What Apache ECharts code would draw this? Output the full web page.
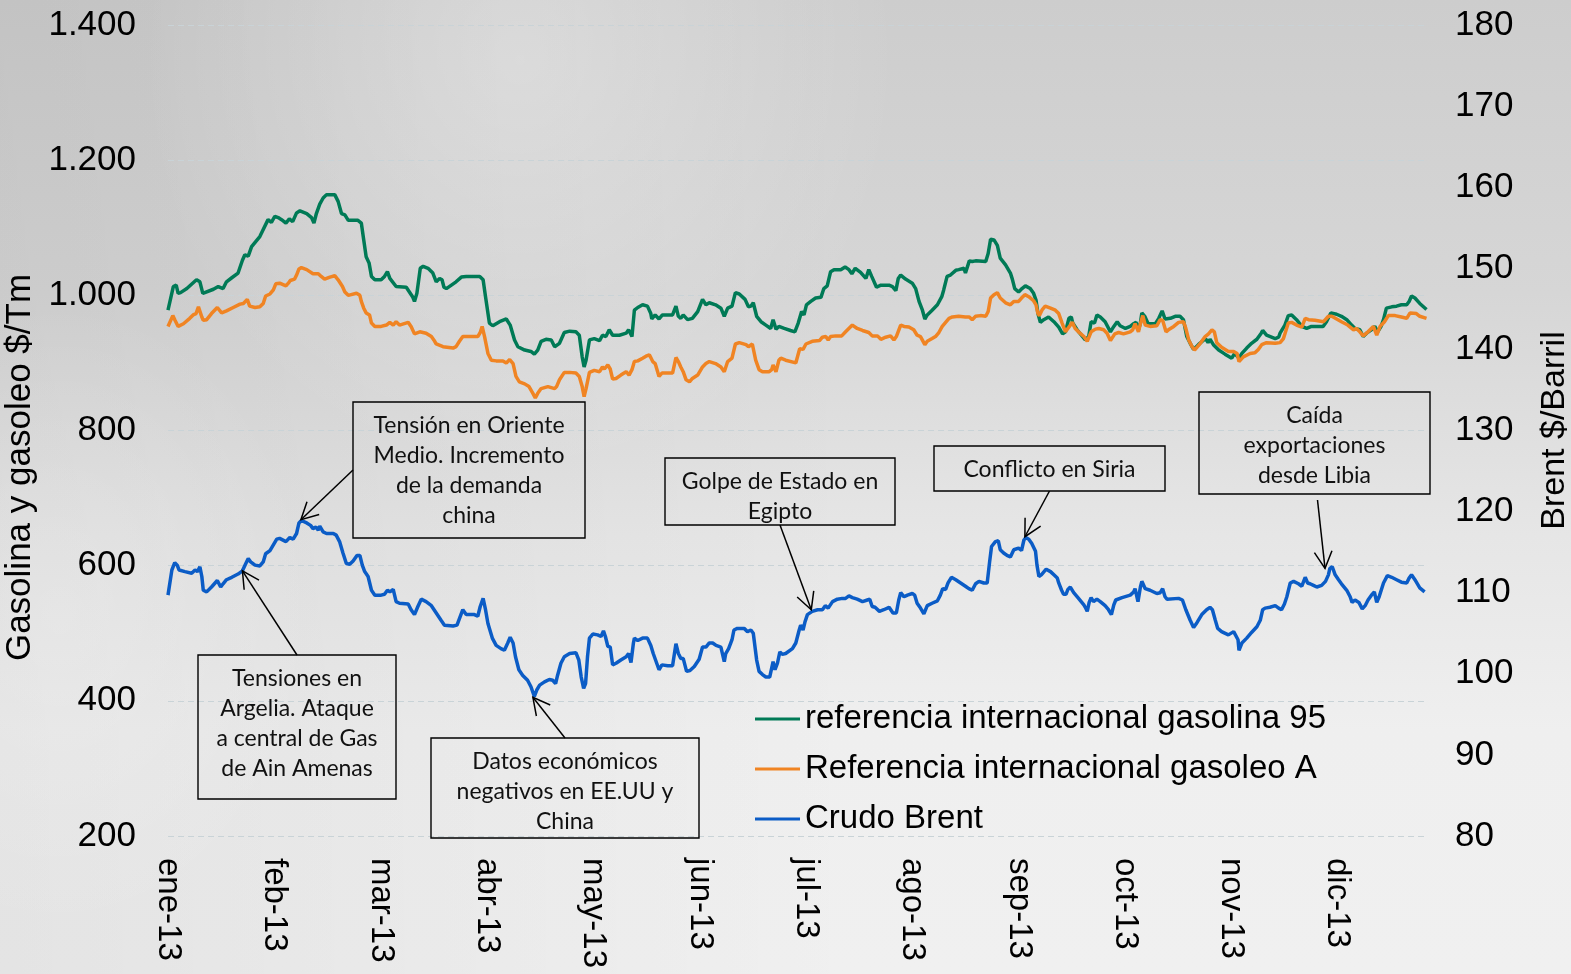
<!DOCTYPE html>
<html>
<head>
<meta charset="utf-8">
<script src="https://cdn.jsdelivr.net/npm/echarts@6/dist/echarts.min.js"></script>
<style>
html,body{margin:0;padding:0;width:1571px;height:974px;overflow:hidden;}
body{
 background:
  radial-gradient(ellipse 380px 420px at 520px 60px, rgba(255,255,255,0.30), rgba(255,255,255,0) 100%),
  radial-gradient(ellipse 260px 320px at 60px 620px, rgba(255,255,255,0.22), rgba(255,255,255,0) 100%),
  linear-gradient(90deg, rgba(0,0,0,0.05) 0%, rgba(0,0,0,0) 55%),
  linear-gradient(180deg, #cdcdcd 0%, #d6d6d6 30%, #e6e6e6 55%, #efefef 75%, #f0f0f0 100%);
}
#chart{width:1571px;height:974px;}
</style>
</head>
<body>
<div id="chart"></div>
<script>
// ---- tick labels (category labels every 22 trading days) ----
const monthLabels = ['ene-13','feb-13','mar-13','abr-13','may-13','jun-13','jul-13','ago-13','sep-13','oct-13','nov-13','dic-13'];
const labelStep = 22;
const lastIndex = 260.5;

// ---- series: [trading-day index, value] ----
const gasolina95 = [[0,978],[1.1,1013],[1.7,1015],[2.1,1003],[2.6,1004],[3.9,1010],[5.9,1023],[6.6,1020],[7.2,1003],[7.6,1001],[9.4,1009],[10.4,1013],[11.4,1010],[12.1,1020],[13.2,1026],[14.5,1033],[15.4,1052],[15.9,1060],[16.6,1058],[17.3,1072],[19,1087],[20.7,1112],[21.4,1108],[22.1,1117],[22.8,1115],[23.5,1112],[24.4,1107],[25.1,1113],[25.8,1109],[26.6,1122],[27.3,1125],[28.7,1121],[29.7,1115],[30.2,1107],[30.7,1121],[31.4,1135],[32.1,1144],[32.8,1149],[34.5,1149],[35.2,1139],[35.9,1121],[36.6,1119],[37.3,1111],[39.3,1111],[40,1107],[40.5,1082],[41,1057],[41.6,1048],[42.1,1028],[42.8,1023],[44.1,1023],[44.8,1028],[45.4,1035],[45.9,1025],[47.2,1013],[49.3,1012],[50.6,998],[51,991],[51.5,1003],[52.2,1040],[52.8,1043],[53.8,1040],[54.8,1033],[55.5,1020],[56.2,1025],[56.7,1023],[57.1,1012],[57.6,1010],[59.6,1020],[60.7,1027],[61,1029],[61.7,1028],[64.5,1028],[65.2,1023],[65.7,998],[66.5,959],[67.2,955],[68.6,961],[70,965],[70.8,956],[71.7,934],[72.4,924],[73.8,919],[75.1,917],[75.8,913],[76.5,919],[77.2,932],[78.2,935],[79.3,934],[80,924],[80.4,922],[81,929],[82,945],[83.1,947],[84.4,946],[85.1,941],[85.7,909],[86.1,894],[86.5,904],[87.2,934],[88.2,936],[89.3,933],[89.9,941],[90.6,939],[91.3,949],[92,941],[93.4,941],[94.8,944],[95.3,949],[96,939],[96.5,978],[97.2,982],[98.2,986],[99.2,984],[99.9,973],[100.1,965],[100.8,971],[101.6,965],[102.3,971],[104.4,971],[105.1,984],[105.6,969],[106.1,966],[106.6,971],[107.5,964],[108.5,966],[109.6,976],[110.6,994],[111.3,986],[112,989],[113.3,986],[114.4,981],[115.1,969],[115.8,981],[116.7,984],[117.4,1004],[118.2,1002],[119.4,994],[120.1,983],[120.6,984],[121.1,989],[121.8,969],[122.7,961],[123.7,956],[124.7,951],[125.2,964],[125.8,950],[126.4,954],[127.5,951],[128.8,948],[129.7,946],[130.4,959],[131.1,976],[131.6,971],[132.1,986],[133,991],[134,996],[135.1,997],[135.7,1010],[136.4,1014],[137.1,1035],[137.8,1038],[139.2,1038],[140.1,1042],[140.9,1038],[141.5,1032],[142.2,1040],[143.3,1034],[144.4,1025],[145,1038],[145.6,1028],[146.6,1012],[147.5,1015],[149.2,1015],[149.9,1013],[150.6,1007],[151.1,1025],[151.6,1030],[152.6,1024],[154,1018],[154.7,1010],[155.4,991],[156.1,978],[156.6,965],[157.1,971],[158.1,978],[159.2,986],[160.1,998],[160.5,1008],[161.2,1028],[161.9,1030],[163,1037],[163.6,1038],[164.7,1040],[165,1033],[165.8,1051],[166.4,1050],[167.1,1051],[169.2,1050],[169.7,1062],[170.2,1083],[170.9,1082],[171.6,1074],[172.2,1055],[173.3,1045],[174.3,1033],[174.7,1024],[175.2,1010],[176,1005],[176.7,1010],[177.4,1014],[178.4,1010],[179.1,1003],[179.6,993],[180,973],[180.5,960],[181.2,964],[182.2,968],[183.3,961],[184.3,953],[185.1,943],[185.7,946],[186.4,966],[186.9,968],[187.2,959],[188.1,949],[189.8,934],[190.5,939],[191,961],[191.7,959],[192.2,971],[192.9,968],[193.9,961],[195,946],[195.3,944],[195.7,954],[196.4,961],[197,955],[198.1,951],[199.1,954],[199.8,958],[200.3,960],[200.8,949],[201.2,959],[201.5,974],[202.1,969],[202.8,958],[204.3,958],[205,966],[205.7,977],[206.3,965],[207.4,966],[208.4,969],[209.4,969],[210.1,964],[210.8,939],[211.5,929],[212.2,920],[213.2,927],[214.3,934],[214.8,935],[215.2,930],[215.6,935],[216.3,927],[217.4,919],[218.7,913],[220.1,907],[220.7,914],[221.1,913],[221.6,907],[222.2,914],[223.2,922],[224.2,929],[225.3,935],[226.2,944],[226.5,948],[227.3,941],[229.1,936],[229.8,938],[230.1,944],[230.4,943],[231.1,956],[231.8,970],[232.5,971],[233.5,964],[234.6,954],[235.6,951],[236,949],[236.6,954],[239,954],[239.7,961],[240.6,974],[241.8,972],[242.8,969],[243.9,964],[244.9,956],[245.6,951],[246.6,949],[247.3,939],[248,944],[249,949],[249.7,954],[250.3,946],[251,954],[251.5,964],[252.1,981],[253.2,983],[254.2,984],[255.2,986],[256.3,986],[256.8,991],[257.3,999],[258,996],[259,988],[260.4,979]];

const gasoleoA = [[0,954],[1,970],[1.4,964],[2.1,954],[3.2,958],[4.5,966],[5.2,971],[5.8,973],[6.3,983],[6.6,984],[7,968],[7.3,963],[8,964],[9,973],[10.2,982],[11.1,974],[12.1,977],[13.5,982],[14.9,987],[15.6,988],[16.4,994],[16.9,984],[18,982],[19,983],[19.7,988],[20.2,999],[21.1,1002],[21.8,1008],[22.3,1017],[23.1,1018],[24.4,1014],[24.9,1018],[25.3,1022],[26.2,1024],[26.6,1030],[27.1,1039],[27.6,1041],[28.7,1038],[30,1032],[31.1,1032],[31.7,1028],[32.4,1024],[33.5,1027],[34.5,1029],[35.2,1023],[36.1,1013],[36.6,1005],[37.3,1000],[39,1003],[39.7,1000],[40,991],[40.5,981],[41,974],[41.7,971],[42.1,959],[42.8,954],[44.1,954],[45.2,956],[45.9,960],[46.6,956],[47.2,961],[47.9,956],[49.7,960],[50.3,954],[51,943],[52.1,946],[53.4,944],[54.5,939],[55,934],[55.5,928],[56.9,924],[59,922],[59.6,924],[60.3,932],[61,939],[64.1,939],[64.6,945],[65,954],[65.5,939],[66.2,914],[66.9,904],[67.9,903],[69.3,903],[70,900],[70.7,905],[71.4,899],[72,880],[72.7,872],[73.8,869],[74.7,865],[75.5,855],[76,848],[76.5,855],[77.2,862],[78.6,865],[80,862],[80.4,865],[81,875],[82,886],[83.1,886],[84.4,885],[85.1,880],[85.7,865],[86.1,850],[86.5,862],[87.2,886],[88.2,889],[89.3,887],[89.9,894],[90.3,891],[91,897],[91.5,891],[92,876],[92.7,877],[93.7,882],[94.8,887],[95.4,882],[96,890],[96.5,902],[97.2,903],[98.2,907],[98.9,910],[99.6,912],[100.3,902],[100.8,899],[101.6,880],[102.2,885],[104.4,885],[105.1,908],[105.6,902],[106.1,894],[106.6,887],[107.2,875],[107.9,872],[108.5,877],[109.6,882],[110.6,894],[111.3,899],[112,902],[113.3,899],[114.4,894],[115.1,887],[115.8,902],[116.7,907],[117.4,928],[118.2,930],[119.6,927],[120.1,924],[120.9,928],[121.6,904],[122.3,890],[123,887],[124.4,887],[124.9,890],[125.2,897],[125.8,887],[126.4,904],[126.8,907],[127.8,904],[129.9,900],[130.7,921],[131.4,920],[132,928],[133.3,932],[134.8,933],[135.4,938],[136.1,939],[136.6,934],[137.1,939],[138.2,940],[139.4,940],[140.2,946],[141.6,956],[142.6,951],[143.7,948],[145,945],[145.7,940],[146.8,940],[147.5,935],[148.5,938],[149.5,940],[150.2,934],[150.7,939],[151.6,956],[152.3,954],[153.3,953],[154.3,949],[155,941],[155.7,939],[156.6,927],[157.1,932],[158.1,936],[158.8,939],[159.5,945],[160.2,954],[160.9,960],[161.6,966],[162.3,968],[163.6,969],[165,968],[165.8,968],[166.4,964],[167.1,969],[168.1,970],[169.2,969],[169.7,976],[170.2,996],[170.9,1001],[171.6,1004],[172.2,996],[173.3,989],[174.3,986],[175,991],[176,991],[176.6,996],[177.3,1001],[178.1,998],[179.1,992],[179.6,986],[180,973],[180.3,970],[180.9,979],[181.5,984],[182.6,981],[183.6,978],[184.3,973],[185,959],[185.7,946],[186.5,954],[187.1,960],[187.7,951],[188.4,946],[189.5,939],[190.2,932],[191,946],[191.9,950],[192.6,951],[193.6,949],[194.3,944],[195,933],[195.3,932],[195.9,943],[196.7,945],[197.7,943],[199.1,946],[199.6,949],[200.1,958],[200.8,946],[201.2,958],[201.7,970],[202.2,956],[203.2,954],[204.6,955],[205.3,964],[205.8,963],[206.5,946],[207,949],[208.1,954],[209.1,960],[210.1,961],[210.6,951],[211.2,934],[211.9,924],[212.4,919],[213.6,929],[214.6,939],[215.3,943],[216,949],[216.5,946],[217,930],[218,923],[219.4,917],[220.5,917],[220.8,919],[221.2,914],[221.6,902],[222.5,909],[223.9,914],[224.9,915],[225.6,920],[226.3,927],[227.3,930],[229.1,929],[230.1,930],[230.8,936],[231.8,959],[232.5,960],[233.5,956],[234.6,953],[235.3,966],[236,964],[237.3,963],[239.1,961],[240.1,969],[240.8,969],[241.8,965],[242.8,961],[244.1,956],[245.3,949],[245.9,951],[246.6,946],[247.3,940],[248.3,946],[249.4,954],[250.1,941],[250.8,954],[251.7,961],[252.5,970],[253.9,970],[255.2,968],[256.3,966],[257,974],[257.4,976],[258.3,973],[259,969],[260.4,966]];

const crudoBrent = [[0,109.7],[0.8,112.8],[1.4,113.7],[1.9,113.4],[2.3,112.8],[3.5,112.6],[4.9,112.4],[5.6,112.8],[6.1,112.6],[6.6,113.2],[7,112],[7.3,110.3],[8,110.1],[9,110.7],[10.2,111.5],[10.9,110.7],[11.4,111.1],[12.1,111.6],[13.2,111.9],[14.5,112.3],[15.4,112.7],[16.1,113.6],[16.6,114.2],[17.1,113.8],[18,113.4],[19,113.3],[19.7,113.8],[20.2,114.8],[21.1,115.2],[21.8,115.9],[22.5,116.6],[23.1,116.7],[24.4,116.3],[25.2,116.8],[25.9,116.6],[26.6,117.3],[27.1,118.6],[27.6,118.9],[28.7,118.6],[29.5,118.3],[30,117.9],[30.6,118.1],[31.1,117.7],[31.4,118.2],[32.1,117.5],[32.8,117.3],[34.2,117.3],[34.8,117.1],[35.5,116.3],[36.2,114.9],[36.9,113.6],[37.6,113.5],[38.3,113.9],[39.1,114.6],[39.7,114.6],[40.2,113.4],[40.7,112.6],[41.4,112],[42.1,110.3],[42.8,109.7],[44.1,109.7],[44.8,109.8],[45.4,110.3],[45.9,110.1],[46.6,110.4],[47.2,108.9],[47.9,108.7],[49.7,108.6],[50.3,107.9],[51,107.3],[51.7,108.3],[52.4,109.2],[53.4,108.9],[54.5,108.4],[55.5,107.5],[56.5,106.6],[57.2,106],[59,105.9],[59.8,106],[60.3,106.8],[61,107.9],[61.7,107.3],[63.4,107.3],[64.1,107.1],[64.6,108.3],[65.2,109.3],[65.7,107.9],[66.2,106.2],[67.1,104.4],[67.9,103.5],[68.9,103.1],[69.6,102.9],[70.3,103.8],[70.8,104.5],[71.4,103.8],[71.9,102.1],[72.6,100.5],[73.4,99.8],[74.4,99.2],[75.1,98.4],[75.8,97.2],[76.3,98],[76.9,98.6],[77.9,99],[78.9,99.3],[79.6,99.2],[80.2,98.8],[80.6,99.8],[81.3,101.3],[82,102.1],[83.1,102.5],[84.4,102.6],[85,101.7],[85.5,99.6],[86,98.2],[86.4,98.8],[86.8,102.1],[87.2,104.4],[87.9,104.9],[88.9,104.8],[89.6,104.6],[90.1,105.3],[90.5,104.6],[91,103.4],[91.5,103.3],[92,101.1],[92.7,101.3],[93.7,101.7],[94.8,102.1],[95.3,102.5],[95.8,101.4],[96.3,103.8],[96.5,104.4],[97.2,104.1],[98.2,104.4],[99.2,104.4],[99.9,103.5],[100.4,102.5],[100.8,102.3],[101.6,100.5],[102.2,101.1],[103.4,101],[104.4,101],[105.1,103.7],[105.6,102.5],[106.1,101.9],[106.6,101.9],[107.3,100.3],[108,100.4],[108.9,100.9],[109.9,101.8],[110.6,103.3],[111.3,103.3],[112,103.8],[112.7,103.8],[113.4,103.5],[114.4,103.3],[115.1,101.5],[115.4,102.5],[116,103.1],[116.7,104.2],[117.1,105.4],[117.8,105.6],[119.2,105.6],[119.9,105.2],[120.6,105.4],[121.1,105],[121.8,101.7],[122.3,100.3],[123,99.9],[123.7,99.6],[124.5,99.6],[125.2,101.5],[125.6,100.5],[126.1,101.3],[126.6,102.7],[127.1,102.4],[127.8,102.5],[129.2,103.1],[129.9,103.8],[130.6,105.4],[130.9,106],[131.4,105.4],[131.8,106.4],[132.3,107.3],[133.3,107.7],[134.4,107.9],[135.4,107.9],[136,108.4],[136.6,108.1],[137.5,108.9],[138.5,109.2],[139.5,109.3],[140.2,109.3],[140.9,109.6],[141.6,109.4],[142.6,109.2],[143.7,108.9],[144.7,109.1],[145.2,109.2],[145.7,108.3],[146.3,108.2],[147.2,107.7],[148.1,107.9],[149.2,108.2],[150,107.5],[150.7,107.5],[151.2,109.1],[151.6,110],[152.3,109.5],[153,109.7],[154,109.9],[154.5,109.7],[155,108.7],[155.7,108.1],[156.4,107.4],[157.1,108.4],[158.1,108.7],[159.2,109],[159.8,109.7],[160.3,110.5],[160.9,110.4],[161.4,111.2],[162.1,111.9],[163,111.6],[164,111.2],[165,110.8],[165.7,110.5],[166.4,110.3],[167.1,111.1],[167.8,111.4],[168.8,111.2],[169.5,111.2],[170,113.8],[170.4,115.7],[171.2,116.3],[171.8,116.4],[172.2,115.3],[172.9,114.9],[173.6,114.6],[174.3,114.4],[175,115.3],[176,115.5],[176.6,115.2],[177.1,116.5],[177.5,116.8],[178.1,116.6],[178.7,116.1],[179.5,115.1],[179.8,113.4],[180.2,112],[180.7,112.2],[181.7,112.9],[182.6,112.6],[183.3,112.2],[184,111.8],[184.3,111.2],[184.9,110.3],[185.3,109.8],[185.8,109.8],[186.2,110.4],[186.7,110.7],[187.4,110],[188.4,109.3],[189.5,108.5],[189.8,108.2],[190.2,107.7],[190.6,108.8],[191,109.4],[191.5,108.9],[192.2,109.2],[192.9,108.9],[193.9,108.4],[194.6,107.9],[195.2,107.3],[195.7,108.5],[196.1,109.1],[197.4,109.4],[199.1,109.7],[199.8,110.1],[200.1,110.5],[200.7,108.9],[201.2,110.7],[201.5,111.4],[202.2,110.5],[203.2,110.3],[204.6,109.9],[205.3,110],[205.8,110.5],[206.3,109.5],[206.7,109.2],[209.1,109.3],[209.9,109.1],[210.6,107.9],[211.5,106.6],[212.2,105.7],[212.9,106.3],[213.9,107.3],[214.9,107.9],[215.6,108.2],[216.1,107.9],[216.7,106.6],[217.2,105.6],[218,105.2],[219.4,104.8],[220.5,105.2],[220.9,105.4],[221.4,104.2],[221.6,102.9],[222.2,103.8],[223.2,104.4],[224.2,105.1],[225.3,105.8],[226,106.6],[226.5,107.9],[227,108.1],[228,108.2],[229.1,108.4],[229.8,108.1],[230.4,107.9],[231,108.6],[231.5,109.5],[232.2,111.2],[232.9,111.4],[233.9,111.1],[234.6,110.8],[235.3,111.9],[235.8,111.2],[236.3,111.1],[237,110.9],[237.7,110.7],[238.7,110.9],[239.5,111.4],[240.1,112.2],[240.4,113],[240.9,113.2],[241.5,112.2],[242.2,111.6],[242.8,111.1],[243.9,110.3],[244.6,109.5],[245,108.8],[245.6,109.1],[246.4,108.8],[247.1,108],[247.7,108.4],[248.3,109.1],[249,109.7],[249.6,110.1],[250.1,108.8],[250.6,109.5],[251.5,111.2],[252.3,112.1],[253.2,111.9],[254.2,111.6],[255.2,111.3],[256.3,111.2],[256.8,111.8],[257.3,112.2],[258,111.6],[259,110.6],[260,110.1]];

// ---- annotations: text + arrow tip in (index, Brent) data coords ----
const annotationTexts = [
  ['Tensión en Oriente','Medio. Incremento','de la demanda','china'],
  ['Tensiones en','Argelia. Ataque','a central de Gas','de Ain Amenas'],
  ['Datos económicos','negativos en EE.UU y','China'],
  ['Golpe de Estado en','Egipto'],
  ['Conflicto en Siria'],
  ['Caída','exportaciones','desde Libia']
];
const annotationTips = [[27.5,119.0],[15.4,112.7],[75.5,97.1],[133.1,107.9],[177.3,116.9],[239.4,113.0]];

// layout of the annotation boxes (pixels)
const boxLayout = [
  {x:353,y:402,w:232,h:136,anchor:'left'},
  {x:198,y:655,w:198,h:144,anchor:'top'},
  {x:431,y:738,w:268,h:100,anchor:'top'},
  {x:665,y:458,w:230,h:67,anchor:'bottom'},
  {x:934,y:446,w:231,h:45,anchor:'bottom'},
  {x:1199,y:392,w:231,h:102,anchor:'bottom',dx:3,dy:6}
];

const seriesNames = ['referencia internacional gasolina 95','Referencia internacional gasoleo A','Crudo Brent'];
const seriesColors = ['#007a56','#f08423','#0b5cc6'];

const FONT = "'Liberation Sans', Arial, sans-serif";

function fmtThousands(v){
  if (v >= 1000) { return Math.floor(v/1000) + '.' + String(v % 1000).padStart(3,'0'); }
  return String(v);
}

const chart = echarts.init(document.getElementById('chart'), null, {renderer:'canvas'});

const option = {
  animation:false,
  backgroundColor:'transparent',
  textStyle:{fontFamily:FONT},
  grid:{left:168,right:144,top:25,bottom:138,containLabel:false,outerBoundsMode:'none'},
  legend:{
    orient:'vertical', left:750, top:697, align:'left',
    itemWidth:45, itemHeight:3, itemGap:16, icon:'rect',
    textStyle:{fontSize:33, color:'#000', fontFamily:FONT, lineHeight:34},
    data:seriesNames
  },
  xAxis:{
    type:'value', min:0, max:lastIndex, interval:labelStep,
    axisLine:{show:false}, axisTick:{show:false}, splitLine:{show:false},
    axisLabel:{
      rotate:-90, margin:22, fontSize:33, color:'#000', fontFamily:FONT,
      showMaxLabel:false,
      formatter:function(v){ const i = v / labelStep; return Number.isInteger(i) && monthLabels[i] ? monthLabels[i] : ''; }
    }
  },
  yAxis:[
    {
      type:'value', min:200, max:1400, interval:200, position:'left',
      name:'Gasolina y gasoleo $/Tm', nameLocation:'middle', nameGap:121,
      nameTextStyle:{fontSize:35, color:'#000', fontFamily:FONT, padding:[0,74,0,0]},
      axisLine:{show:false}, axisTick:{show:false},
      axisLabel:{fontSize:35, color:'#000', margin:32, fontFamily:FONT, formatter:fmtThousands, padding:[5,0,0,0]},
      splitLine:{show:true, lineStyle:{color:'#c9d3d7', type:[6,4], width:1.2}}
    },
    {
      type:'value', min:80, max:180, interval:10, position:'right',
      name:'Brent $/Barril', nameLocation:'middle', nameGap:111,
      nameTextStyle:{fontSize:34, color:'#000', fontFamily:FONT},
      axisLine:{show:false}, axisTick:{show:false},
      axisLabel:{fontSize:35, color:'#000', margin:28, fontFamily:FONT, padding:[5,0,0,0]},
      splitLine:{show:false}
    }
  ],
  series:[
    {name:seriesNames[0], type:'line', yAxisIndex:0, data:gasolina95, showSymbol:false, symbol:'none',
     lineStyle:{color:seriesColors[0], width:3.5}, itemStyle:{color:seriesColors[0]}, z:3},
    {name:seriesNames[1], type:'line', yAxisIndex:0, data:gasoleoA, showSymbol:false, symbol:'none',
     lineStyle:{color:seriesColors[1], width:3.5}, itemStyle:{color:seriesColors[1]}, z:4},
    {name:seriesNames[2], type:'line', yAxisIndex:1, data:crudoBrent, showSymbol:false, symbol:'none',
     lineStyle:{color:seriesColors[2], width:3.5}, itemStyle:{color:seriesColors[2]}, z:5}
  ]
};
chart.setOption(option);

function buildAnnotations(){
  const els = [];
  annotationTexts.forEach(function(lines, i){
    const b = boxLayout[i];
    els.push({type:'rect', z:20, silent:true,
      shape:{x:b.x, y:b.y, width:b.w, height:b.h},
      style:{fill:'rgba(0,0,0,0)', stroke:'#000', lineWidth:1.4}});
    els.push({type:'text', z:21, silent:true,
      style:{text:lines.join('\n'), x:b.x + b.w/2, y:b.y + 9, align:'center', verticalAlign:'top',
             fontSize:23, fontFamily:'Lato, "Open Sans", sans-serif', lineHeight:30, fill:'#111'}});
    let s;
    if (b.anchor === 'left') s = [b.x, b.y + b.h/2];
    else if (b.anchor === 'top') s = [b.x + b.w/2, b.y];
    else s = [b.x + b.w/2 + (b.dx||0), b.y + b.h + (b.dy||0)];
    const t = chart.convertToPixel({xAxisIndex:0, yAxisIndex:1}, annotationTips[i]);
    const ang = Math.atan2(t[1]-s[1], t[0]-s[0]);
    const L = 19, sp = Math.PI/6.5;
    els.push({type:'line', z:20, silent:true,
      shape:{x1:s[0], y1:s[1], x2:t[0], y2:t[1]}, style:{stroke:'#000', lineWidth:1.5}});
    els.push({type:'polyline', z:20, silent:true,
      shape:{points:[[t[0]-L*Math.cos(ang-sp), t[1]-L*Math.sin(ang-sp)], [t[0], t[1]], [t[0]-L*Math.cos(ang+sp), t[1]-L*Math.sin(ang+sp)]]},
      style:{stroke:'#000', fill:null, lineWidth:1.5}});
  });
  return els;
}
chart.setOption({graphic:{elements:buildAnnotations()}});
</script>
</body>
</html>
